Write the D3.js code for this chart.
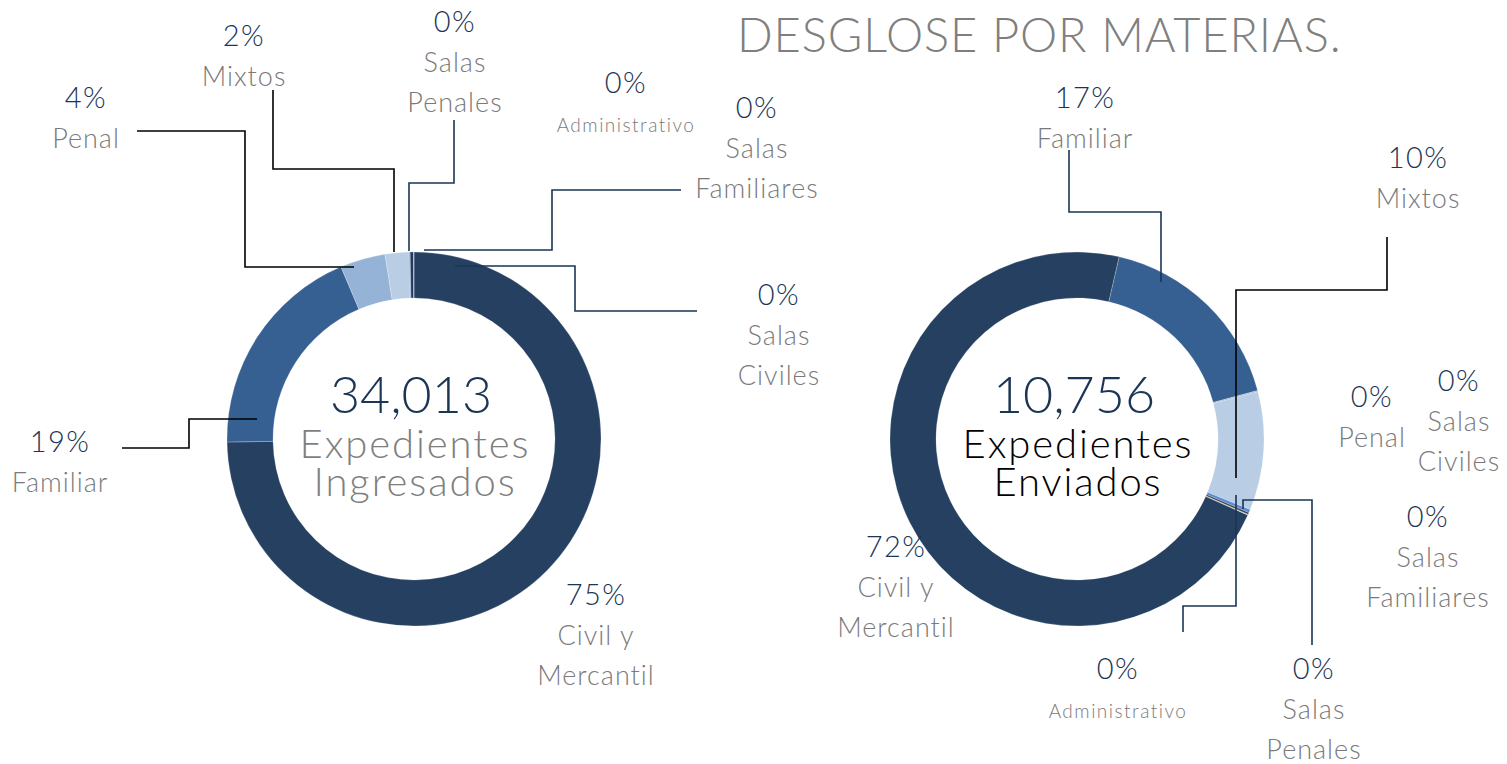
<!DOCTYPE html>
<html>
<head>
<meta charset="utf-8">
<script src="https://cdn.jsdelivr.net/npm/d3@7/dist/d3.min.js"></script>
<style>
  html, body { margin: 0; padding: 0; background: #fff; }
  svg { display: block; font-family: Lato, "Open Sans", sans-serif; }
  .pct { fill: #1b3556; }
  .cat { fill: #7a7a7a; }
  .leader { fill: none; stroke-width: 1.6; }
</style>
</head>
<body>
<div id="chart"></div>
<script>
// Categories in series order (clockwise from the first slice)
const categories = ['Civil y Mercantil', 'Familiar', 'Penal', 'Mixtos',
  'Salas Penales', 'Administrativo', 'Salas Familiares', 'Salas Civiles'];

// Expedientes by materia (estimated from the rounded percentages)
const ingresados = [25420, 6420, 1330, 700, 25, 8, 100, 10];
const enviados = [7740, 1850, 12, 1100, 30, 18, 4, 2];

const sliceColors = ['#254061', '#376092', '#95b3d7', '#b9cde5',
  '#558ed5', '#404040', '#1f3864', '#c6d9f1'];

// Label layout for each chart (label anchor + leader path), indexed like categories
const leftLayout = [
  { x: 596, y: 605, lines: ['Civil y', 'Mercantil'] },
  { x: 60, y: 452, lines: ['Familiar'], path: [[122, 448], [189, 448], [189, 419], [257, 419]], stroke: '#000' },
  { x: 86, y: 108, lines: ['Penal'], path: [[137, 131], [245, 131], [245, 267], [354, 267]], stroke: '#000' },
  { x: 244, y: 46, lines: ['Mixtos'], path: [[273, 90], [273, 169], [394, 169], [394, 252]], stroke: '#000' },
  { x: 455, y: 32, lines: ['Salas', 'Penales'], path: [[454, 120], [454, 183], [409, 183], [409, 251]], stroke: '#1b3556' },
  { x: 626, y: 93, lines: ['Administrativo'], small: true },
  { x: 757, y: 118, lines: ['Salas', 'Familiares'], path: [[424, 250], [552, 250], [552, 190], [681, 190]], stroke: '#1b3556' },
  { x: 779, y: 305, lines: ['Salas', 'Civiles'], path: [[455, 266], [575, 266], [575, 311], [697, 311]], stroke: '#1b3556' },
];

const rightLayout = [
  { x: 896, y: 557, lines: ['Civil y', 'Mercantil'] },
  { x: 1085, y: 108, lines: ['Familiar'], path: [[1069, 150], [1069, 212], [1161, 212], [1161, 282]], stroke: '#1b3556' },
  { x: 1372, y: 407, lines: ['Penal'] },
  { x: 1418, y: 168, lines: ['Mixtos'], path: [[1387, 237], [1387, 290], [1236, 290], [1236, 478]], stroke: '#000' },
  { x: 1314, y: 679, lines: ['Salas', 'Penales'], path: [[1312, 645], [1312, 500], [1243, 500], [1243, 509]], stroke: '#1b3556' },
  { x: 1118, y: 679, lines: ['Administrativo'], small: true, path: [[1183, 632], [1183, 606], [1236, 606], [1236, 495]], stroke: '#1b3556' },
  { x: 1428, y: 527, lines: ['Salas', 'Familiares'] },
  { x: 1459, y: 391, lines: ['Salas', 'Civiles'] },
];

const charts = [
  { values: ingresados, cx: 414, cy: 439, start: 0, layout: leftLayout,
    total: '34,013', caption: ['Expedientes', 'Ingresados'], captionColor: '#7f7f7f' },
  { values: enviados, cx: 1077, cy: 439, start: 114, layout: rightLayout,
    total: '10,756', caption: ['Expedientes', 'Enviados'], captionColor: '#000' },
];

const width = 1507, height = 764;
const outerR = 187, innerR = 141;

const svg = d3.select('#chart').append('svg')
  .attr('width', width)
  .attr('height', height)
  .attr('viewBox', `0 0 ${width} ${height}`);

// Title
svg.append('text')
  .attr('x', 737)
  .attr('y', 52)
  .attr('fill', '#7f7f7f')
  .attr('font-size', 47)
  .attr('font-weight', 300)
  .attr('letter-spacing', 0.9)
  .text('DESGLOSE POR MATERIAS.');

const color = d3.scaleOrdinal().domain(categories).range(sliceColors);
const arc = d3.arc().innerRadius(innerR).outerRadius(outerR);
const pctFmt = d3.format('.0%');

charts.forEach(ch => {
  const total = d3.sum(ch.values);
  const startRad = ch.start * Math.PI / 180;
  const pie = d3.pie().sort(null)
    .startAngle(startRad)
    .endAngle(startRad + 2 * Math.PI);

  const arcs = pie(ch.values);

  const g = svg.append('g').attr('transform', `translate(${ch.cx},${ch.cy})`);
  g.selectAll('path')
    .data(arcs)
    .join('path')
    .attr('d', arc)
    .attr('fill', (d, i) => color(categories[i]))
    .attr('stroke', 'rgba(255,255,255,0.35)')
    .attr('stroke-width', 0.6);

  // Centre text
  svg.append('text')
    .attr('x', ch.cx - 3)
    .attr('y', 413)
    .attr('text-anchor', 'middle')
    .attr('font-size', 52)
    .attr('font-weight', 300)
    .attr('fill', '#1b3556')
    .text(ch.total);
  ch.caption.forEach((t, k) => {
    svg.append('text')
      .attr('x', ch.cx + 1)
      .attr('y', 458 + k * 38)
      .attr('text-anchor', 'middle')
      .attr('font-size', 40)
      .attr('font-weight', 300)
      .attr('letter-spacing', 1.9)
      .attr('fill', ch.captionColor)
      .text(t);
  });

  // Leader lines
  const line = d3.line();
  ch.layout.forEach(l => {
    if (!l.path) return;
    svg.append('path')
      .attr('class', 'leader')
      .attr('d', line(l.path))
      .attr('stroke', l.stroke);
  });

  // Data labels
  ch.layout.forEach((l, i) => {
    const pct = ch.values[i] / total;
    svg.append('text')
      .attr('class', 'pct')
      .attr('x', l.x)
      .attr('y', l.y)
      .attr('text-anchor', 'middle')
      .attr('font-size', 29)
      .attr('font-weight', 300)
      .attr('letter-spacing', 1.5)
      .text(pctFmt(pct));
    l.lines.forEach((t, k) => {
      svg.append('text')
        .attr('class', 'cat')
        .attr('x', l.x)
        .attr('y', l.y + (l.small ? 39 : 40) * (k + 1))
        .attr('text-anchor', 'middle')
        .attr('font-size', l.small ? 19 : 27)
        .attr('font-weight', 300)
        .attr('letter-spacing', l.small ? 1.5 : 1)
        .text(t);
    });
  });
});
</script>
</body>
</html>
